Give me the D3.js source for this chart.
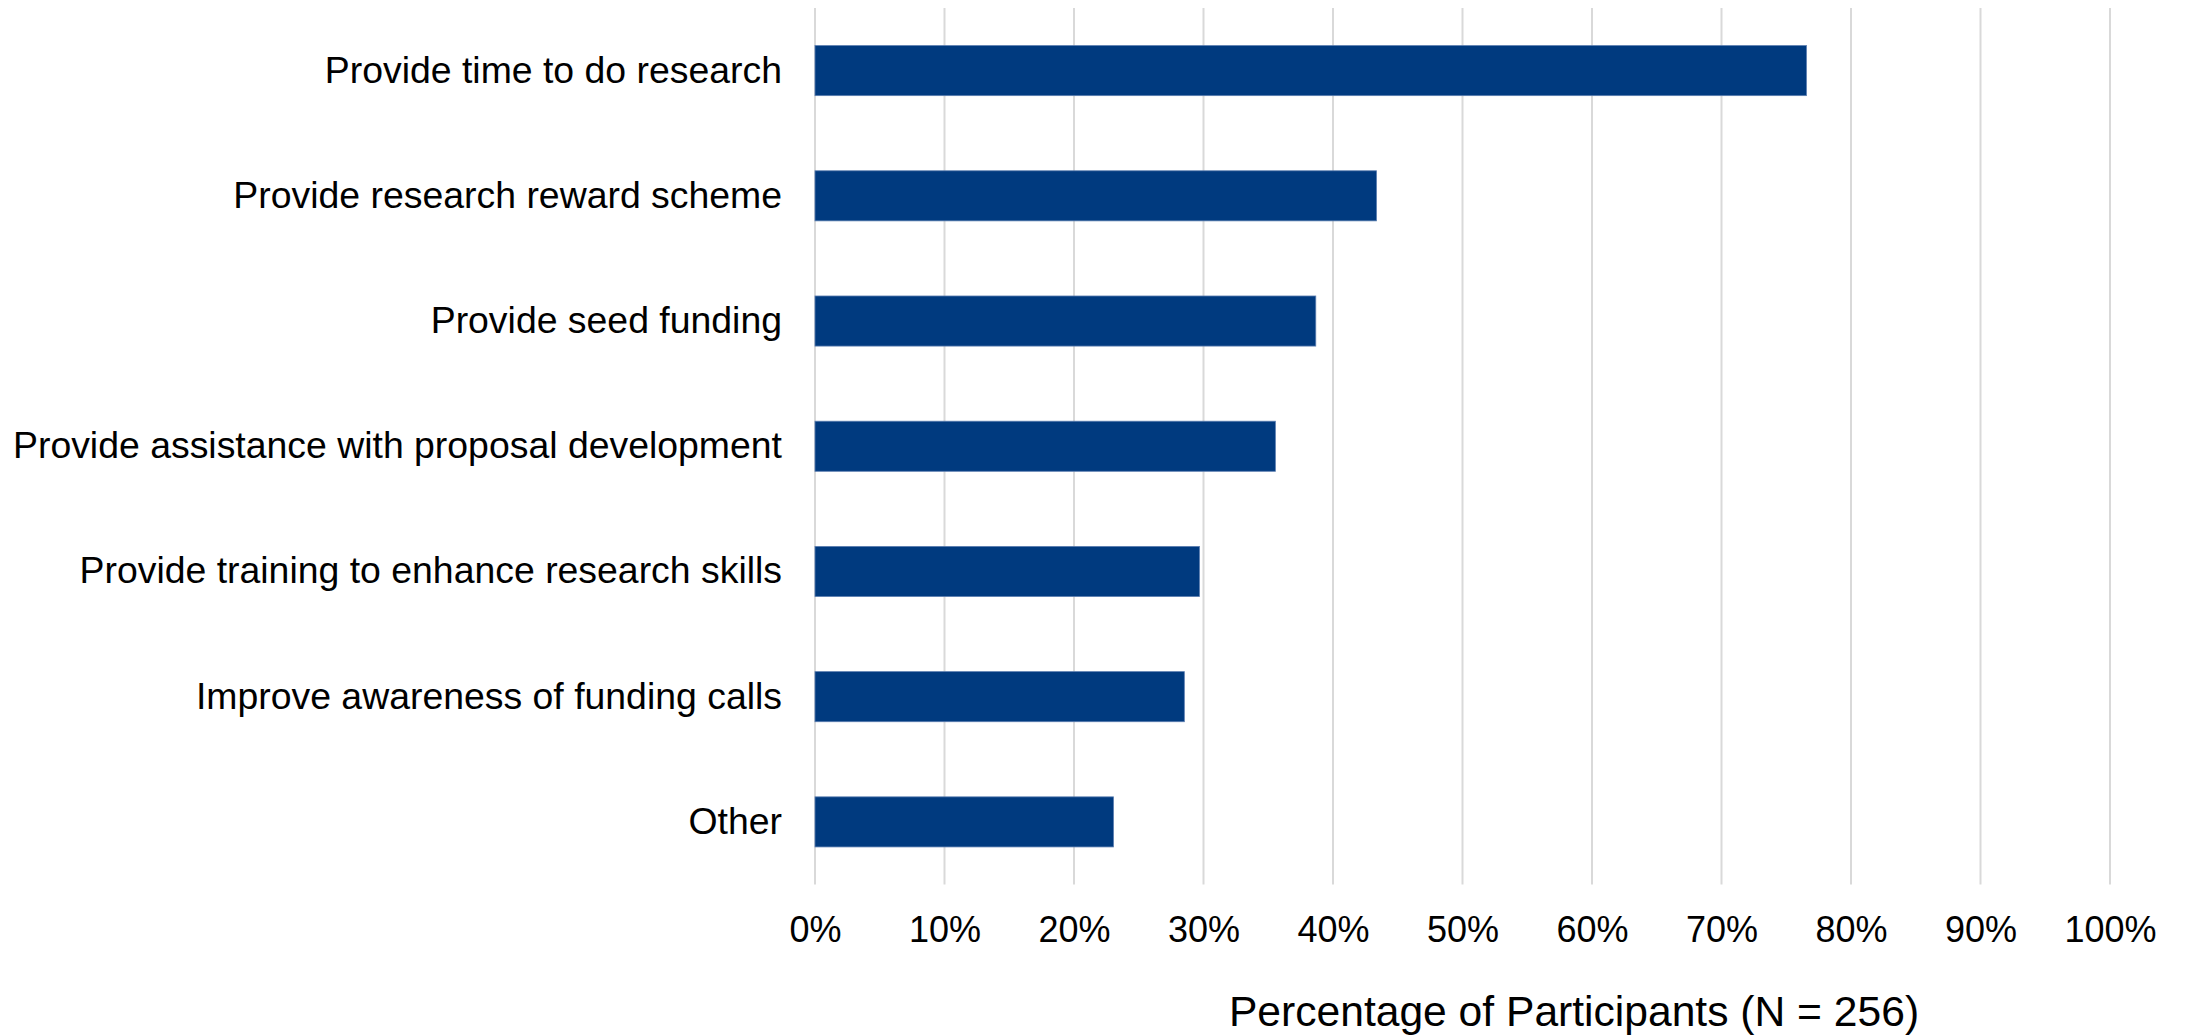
<!DOCTYPE html>
<html>
<head>
<meta charset="utf-8">
<script src="https://cdn.jsdelivr.net/npm/d3@7"></script>
<style>
  html, body { margin: 0; padding: 0; background: #ffffff; }
  svg { display: block; }
  text { font-family: "Liberation Sans", Arial, sans-serif; fill: #000; }
</style>
</head>
<body>
<svg id="chart" width="2187" height="1035"></svg>
<script>
const categories = [
  "Provide time to do research",
  "Provide research reward scheme",
  "Provide seed funding",
  "Provide assistance with proposal development",
  "Provide training to enhance research skills",
  "Improve awareness of funding calls",
  "Other"
];
const values = [76.56, 43.36, 38.67, 35.55, 29.69, 28.52, 23.05];
const tickValues = [0, 10, 20, 30, 40, 50, 60, 70, 80, 90, 100];
const axisTitle = "Percentage of Participants (N = 256)";

const svg = d3.select("#chart");

const x = d3.scaleLinear().domain([0, 100]).range([815, 2110]);
const y = d3.scaleBand().domain(categories).range([8, 884.5])
  .paddingInner(0.6).paddingOuter(0.3);

// gridlines
svg.append("g")
  .selectAll("line")
  .data(tickValues)
  .join("line")
  .attr("x1", d => x(d)).attr("x2", d => x(d))
  .attr("y1", 8).attr("y2", 884.5)
  .attr("stroke", "#d9d9d9")
  .attr("stroke-width", 2);

// bars
svg.append("g")
  .selectAll("rect")
  .data(categories)
  .join("rect")
  .attr("x", x(0))
  .attr("y", d => y(d))
  .attr("width", (d, i) => x(values[i]) - x(0))
  .attr("height", y.bandwidth())
  .attr("fill", "#003a7f")
  .attr("stroke", "#5a7db0")
  .attr("stroke-width", 0.8);

// category labels (y axis)
const yAxis = d3.axisLeft(y).tickSize(0).tickPadding(33);
const gy = svg.append("g").attr("transform", `translate(${x(0)},0)`).call(yAxis);
gy.select(".domain").remove();
gy.selectAll("text")
  .attr("font-size", 37.4)
  .attr("font-family", "Liberation Sans, Arial, sans-serif")
  .attr("fill", "#000");

// x tick labels
const xAxis = d3.axisBottom(x).tickValues(tickValues).tickSize(0).tickPadding(0)
  .tickFormat(d => d + "%");
const gx = svg.append("g").attr("transform", `translate(0,929)`).call(xAxis);
gx.select(".domain").remove();
gx.selectAll("text")
  .attr("y", 0)
  .attr("dy", "0.35em")
  .attr("font-size", 36)
  .attr("font-family", "Liberation Sans, Arial, sans-serif")
  .attr("fill", "#000");

// axis title
svg.append("text")
  .attr("x", 1574)
  .attr("y", 1026)
  .attr("text-anchor", "middle")
  .attr("font-size", 42.6)
  .text(axisTitle);
</script>
</body>
</html>
